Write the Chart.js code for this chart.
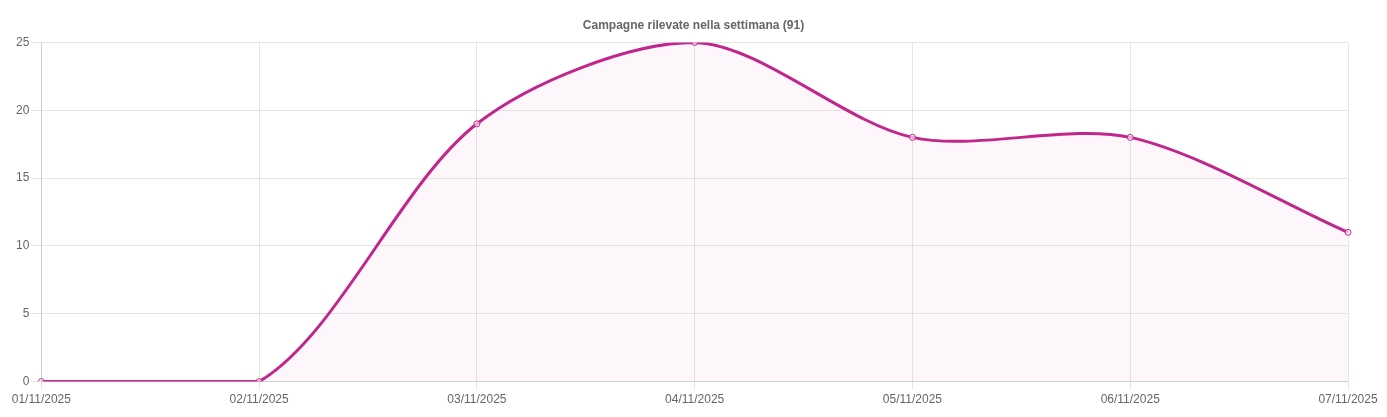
<!DOCTYPE html>
<html>
<head>
<meta charset="utf-8">
<script src="https://cdn.jsdelivr.net/npm/chart.js@4/dist/chart.umd.min.js"></script>
<style>
html,body{margin:0;padding:0;background:#fff;}
#wrap{width:1387px;height:417px;position:relative;}
</style>
</head>
<body>
<div id="wrap"><canvas id="c"></canvas></div>
<script>
const categories = ["01/11/2025","02/11/2025","03/11/2025","04/11/2025","05/11/2025","06/11/2025","07/11/2025"];
const campaignValues = [0, 0, 19, 25, 18, 18, 11];
const chartTitle = "Campagne rilevate nella settimana (91)";

Chart.defaults.font.family = "'Liberation Sans', Arial, Helvetica, sans-serif";
Chart.defaults.font.size = 12;
Chart.defaults.color = "#666";

new Chart(document.getElementById('c'), {
  type: 'line',
  data: {
    labels: categories,
    datasets: [{
      data: campaignValues,
      borderColor: 'rgb(192,38,139)',
      backgroundColor: 'rgba(192,38,139,0.04)',
      fill: true,
      tension: 0.3,
      borderWidth: 3,
      pointRadius: 3,
      pointBorderWidth: 1,
      pointBackgroundColor: 'rgba(255,255,255,0.6)',
      pointBorderColor: 'rgb(192,38,139)'
    }]
  },
  options: {
    responsive: true,
    maintainAspectRatio: false,
    animation: false,
    layout: {padding: {left: 14, right: 14, top: 8, bottom: 7}},
    plugins: {
      legend: {display: false},
      tooltip: {enabled: false},
      title: {
        display: true,
        text: chartTitle,
        color: '#666',
        font: {size: 12, weight: 'bold'},
        padding: {top: 10, bottom: 10}
      }
    },
    scales: {
      x: {
        grid: {color: 'rgba(0,0,0,0.1)', tickLength: 8},
        ticks: {maxRotation: 0, color: '#666', padding: 3},
        afterFit: function(scale) { scale.paddingRight = 39; }
      },
      y: {
        min: 0, max: 25,
        grid: {color: 'rgba(0,0,0,0.1)', tickLength: 10},
        ticks: {stepSize: 5, color: '#666', padding: 2}
      }
    }
  }
});
</script>
</body>
</html>
